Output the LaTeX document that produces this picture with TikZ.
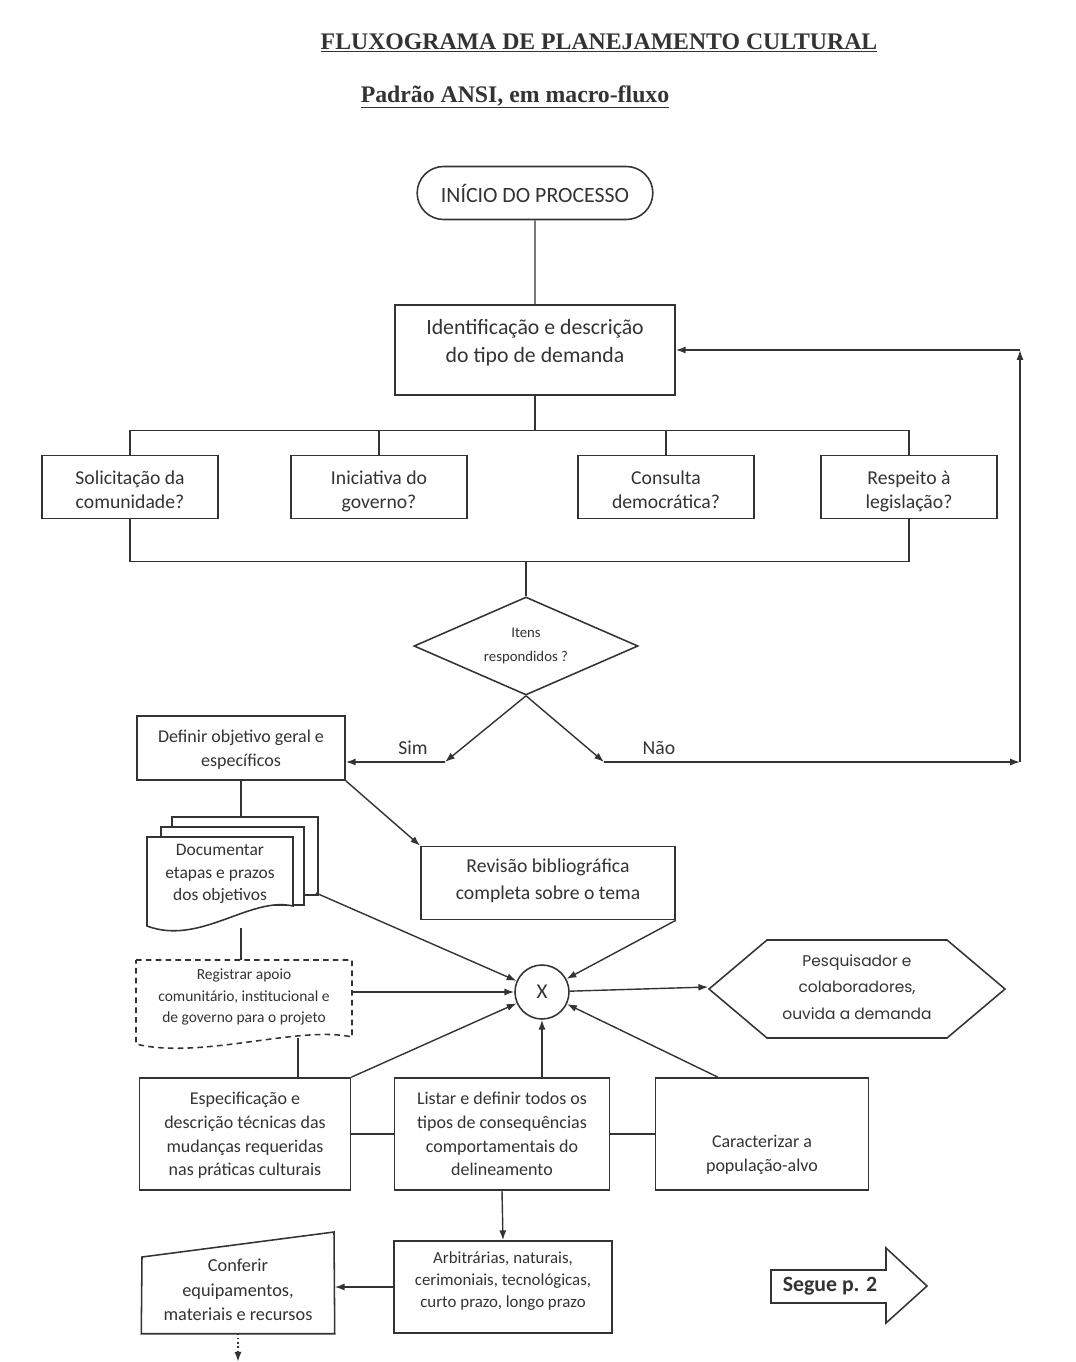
\documentclass[tikz,border=0pt]{standalone}
\usepackage{fontspec}
\setmainfont{Carlito}
\newfontfamily\titlefont{Liberation Serif}
\newfontfamily\roundfont{Poppins}
\usetikzlibrary{arrows.meta, shapes.geometric, shapes.misc}

\begin{document}
\begin{tikzpicture}[x=0.025cm, y=-0.025cm, >={Latex[length=7pt, width=5pt]},
    color=black!80, line width=1pt,
    box/.style={draw, rectangle, line width=1.1pt, align=center, inner sep=2pt,
      execute at begin node=\strut, execute at end node=\strut},
    padtop/.style={execute at begin node={\rule{0pt}{#1}\strut}},
    padbot/.style={execute at end node={\strut\rule[-#1]{0pt}{#1}}},
    fbig/.style={font=\fontsize{15.5}{20}\selectfont},
    fq/.style={font=\fontsize{14}{17}\selectfont},
    fmid/.style={font=\fontsize{12.8}{17}\selectfont},
    fsmall/.style={font=\fontsize{11.5}{15}\selectfont}]
  \useasboundingbox[fill=white] (0,0) rectangle (1076,1362);

  % Titles
  \node[font=\titlefont\bfseries\fontsize{16.9}{19}\selectfont] (title) at (599,43)
    {\underline{FLUXOGRAMA DE PLANEJAMENTO CULTURAL}};
  \node[font=\titlefont\bfseries\fontsize{16.9}{19}\selectfont] (subtitle) at (515,97)
    {\underline{Padrão ANSI, em macro-fluxo}};

  % Start and demand
  \node[draw, rounded rectangle, line width=1.1pt, fbig, minimum width=6.125cm,
    minimum height=1.325cm] (start) at (535,193) {INÍCIO DO PROCESSO};
  \node[box, fbig, padbot=13.2pt, minimum width=7cm, minimum height=2.25cm] (ident)
    at (535,350) {Identificação e descrição\\do tipo de demanda};

  % Questions
  \node[box, fq, padtop=36pt, minimum width=4.4cm, minimum height=1.55cm] (sol)
    at (130,487) {Solicitação da\\comunidade?};
  \node[box, fq, padtop=36pt, minimum width=4.4cm, minimum height=1.55cm] (ini)
    at (379,487) {Iniciativa do\\governo?};
  \node[box, fq, padtop=36pt, minimum width=4.4cm, minimum height=1.55cm] (cons)
    at (666,487) {Consulta\\democrática?};
  \node[box, fq, padtop=36pt, minimum width=4.4cm, minimum height=1.55cm] (resp)
    at (909,487) {Respeito à\\legislação?};

  \draw (start) -- (ident);
  \draw (ident.south) -- ++(0,35) coordinate (bustop);
  \draw (sol.north) -- (sol.north |- bustop) -- (resp.north |- bustop) -- (resp.north);
  \draw (ini.north) -- (ini.north |- bustop);
  \draw (cons.north) -- (cons.north |- bustop);

  % Decision
  \node[draw, diamond, line width=1.1pt, aspect=2.3, inner sep=0pt, align=center,
    font=\fontsize{10.5}{17}\selectfont, minimum width=5.6cm, minimum height=2.45cm]
    (dec) at (526,646) {Itens\\respondidos ?};
  \draw (sol.south) -- ++(0,42) coordinate (busbot) -| (resp.south);
  \draw (dec.north) -- (dec.north |- busbot);

  \node[box, fmid, padtop=31.6pt, minimum width=5.2cm, minimum height=1.6cm] (def)
    at (241,748) {Definir objetivo geral e\\específicos};
  \coordinate (simpt) at (445,762);
  \coordinate (naopt) at (604,762);
  \coordinate (retpt) at (1020,762);
  \draw[->] (dec.south) -- (simpt);
  \draw[->] (simpt) -- (simpt -| def.east);
  \draw[->] (dec.south) -- (naopt);
  \draw[->] (naopt) -- (retpt);
  \draw[->] (retpt) -- (retpt |- ident.east);
  \draw[->] (retpt |- ident.east) -- (ident.east);
  \node[fq] (sim) at (413,748) {Sim};
  \node[fq] (nao) at (659,748) {Não};

  % Documents
  \draw[line width=1.1pt, fill=white] (172,817) rectangle (318,895);
  \draw[line width=1.1pt, fill=white] (161,827) rectangle (304,905);
  \draw[line width=1.1pt, fill=white] (147,837) -- (293,837) -- (293,906)
    .. controls (250,896) and (200,946) .. (147,926) -- cycle;
  \node[font=\fontsize{12.4}{16}\selectfont, align=center] (doc) at (220,874)
    {Documentar\\etapas e prazos\\dos objetivos};
  \coordinate (doctop) at (241,817);
  \coordinate (docright) at (316,893);
  \coordinate (docbot) at (241,928);
  \draw (def.south) -- (doctop);

  \node[box, font=\fontsize{14}{19}\selectfont, minimum width=6.35cm,
    minimum height=1.825cm] (rev) at (548,883)
    {Revisão bibliográfica\\completa sobre o tema};
  \draw[->] (def.south east) -- (rev.north west);

  % Junction
  \node[draw, circle, line width=1.1pt, minimum size=1.35cm, inner sep=0pt,
    font=\fontsize{15}{18}\selectfont] (xnode) at (542,992) {X};

  \draw[line width=1.1pt, dash pattern=on 4pt off 3pt] (136,960) -- (352,960)
    -- (352,1037) .. controls (300,1025) and (200,1060) .. (136,1044) -- cycle;
  \node[font=\fontsize{11}{15}\selectfont, align=center] (reg) at (244,997)
    {Registrar apoio\\comunitário, institucional e\\de governo para o projeto};
  \coordinate (regtop) at (241,960);
  \coordinate (regright) at (352,992);
  \coordinate (regbot) at (298,1038);
  \draw (docbot) -- (regtop);

  \draw[->] (docright) -- (xnode);
  \draw[->] (rev.south east) -- (xnode);
  \draw[->] (regright) -- (regright -| xnode.west);

  % Output
  \node[font=\roundfont\fontsize{11}{19}\selectfont, align=center,
    minimum width=7.4cm, minimum height=2.45cm] (pesq) at (857,987)
    {Pesquisador e\\colaboradores,\\ouvida a demanda};
  \draw[line width=1.1pt] (709,989) -- (767,940) -- (947,940) -- (1005,989)
    -- (947,1038) -- (767,1038) -- cycle;
  \draw[->] (xnode) -- (pesq.west);

  % Bottom row
  \node[box, fmid, padtop=64.8pt, minimum width=5.275cm, minimum height=2.8cm] (espec)
    at (245,1134)
    {Especificação e\\descrição técnicas das\\mudanças requeridas\\nas práticas culturais};
  \node[box, fmid, padtop=64.8pt, minimum width=5.375cm, minimum height=2.8cm] (listar)
    at (502,1134)
    {Listar e definir todos os\\tipos de consequências\\comportamentais do\\delineamento};
  \node[box, fmid, padtop=57.8pt, minimum width=5.325cm, minimum height=2.8cm] (caract)
    at (762,1134) {Caracterizar a\\população-alvo};
  \draw (espec) -- (listar);
  \draw (listar) -- (caract);
  \draw (regbot) -- (regbot |- espec.north);
  \draw[->] (espec.north east) -- (xnode);
  \draw[->] (listar.north -| xnode) -- (xnode.south);
  \draw[->] ([xshift=-1.1cm]caract.north) -- (xnode);

  \node[box, padbot=10.4pt, font=\fontsize{12}{15.5}\selectfont, minimum width=5.45cm,
    minimum height=2.3cm] (arb) at (503,1287)
    {Arbitrárias, naturais,\\cerimoniais, tecnológicas,\\curto prazo, longo prazo};
  \draw[->] (listar.south) -- (arb.north);

  \node[font=\fontsize{13}{17.4}\selectfont, align=center, minimum width=4.8cm,
    minimum height=2.15cm] (conf) at (238,1290)
    {Conferir\\equipamentos,\\materiais e recursos};
  \draw[line width=1.1pt] (conf.south west) -- (conf.south east) -- (334,1232)
    -- (142,1257) -- cycle;
  \draw[->] (arb.west) -- (arb.west -| conf.east);
  \draw[dotted, ->] (conf.south) -- ++(0,28);

  % Continue
  \node[font=\bfseries\fontsize{15.5}{18}\selectfont] (segue) at (830,1286) {Segue p. 2};
  \draw[line width=1.1pt] (771,1270) -- (886,1270) -- (886,1248) -- (927,1286)
    -- (886,1323) -- (886,1303) -- (771,1303) -- cycle;
\end{tikzpicture}
\end{document}
